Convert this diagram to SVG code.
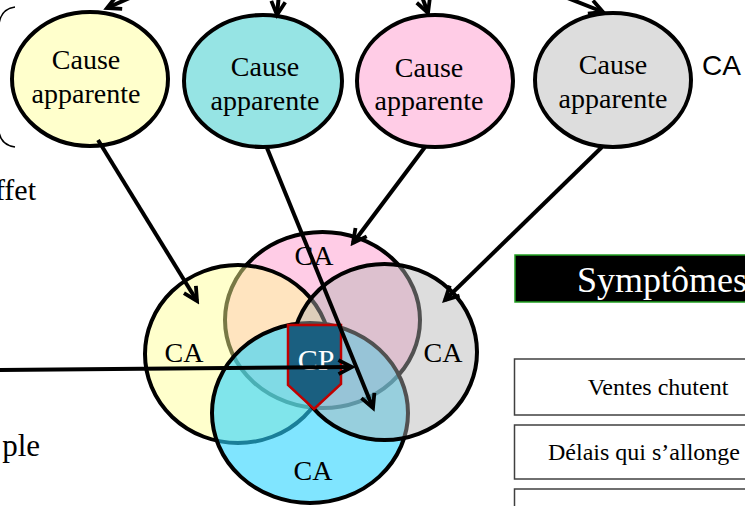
<svg xmlns="http://www.w3.org/2000/svg" width="745" height="506" viewBox="0 0 745 506">
  <defs>
    <marker id="head" markerUnits="userSpaceOnUse" viewBox="-18 -10 22 20" refX="0" refY="0" markerWidth="22" markerHeight="20" orient="auto">
      <path d="M -13.5 -7 L 0 0 L -13.5 7" fill="none" stroke="#000" stroke-width="3.8" stroke-linejoin="miter"/>
    </marker>
    <style>
      .serif { font-family: "Liberation Serif", "Times New Roman", serif; fill: #000; }
      .cause { font-size: 28px; text-anchor: middle; }
      .ca { font-size: 28px; text-anchor: middle; }
      .outline { stroke: #000; stroke-width: 4; }
      .arrow { fill: none; stroke: #000; stroke-width: 4; marker-end: url(#head); }
      .sym { fill: #fff; stroke: #404040; stroke-width: 1.5; }
    </style>
  </defs>

  <!-- side labels -->
  <path d="M 15 7 Q 1 9 -1 24 L -1 132 Q 1 145 15 147" fill="none" stroke="#000" stroke-width="1.5"/>
  <text class="serif" x="36" y="200" font-size="30" text-anchor="end">ffet</text>
  <text class="serif" x="40" y="456" font-size="31" text-anchor="end">ple</text>
  <text x="702" y="75" font-family="Liberation Sans, Arial, sans-serif" font-size="28" fill="#000">CA</text>

  <!-- apparent causes -->
  <g id="cause-yellow">
    <ellipse cx="90" cy="79" rx="78" ry="67" fill="#FFFFCC" class="outline"/>
    <text class="serif cause" x="86" y="69">Cause</text>
    <text class="serif cause" x="86" y="103">apparente</text>
  </g>
  <g id="cause-cyan">
    <ellipse cx="263" cy="81" rx="79" ry="66" fill="#96E4E4" class="outline"/>
    <text class="serif cause" x="265" y="76">Cause</text>
    <text class="serif cause" x="265" y="110">apparente</text>
  </g>
  <g id="cause-pink">
    <ellipse cx="435" cy="81" rx="78" ry="66" fill="#FFCCE6" class="outline"/>
    <text class="serif cause" x="429" y="77">Cause</text>
    <text class="serif cause" x="429" y="110">apparente</text>
  </g>
  <g id="cause-gray">
    <ellipse cx="613" cy="80" rx="78" ry="67" fill="#DDDDDD" class="outline"/>
    <text class="serif cause" x="613" y="74">Cause</text>
    <text class="serif cause" x="613" y="108">apparente</text>
  </g>

  <!-- overlapping causes -->
  <g id="venn">
    <g id="ca-pink">
      <ellipse cx="322.5" cy="320" rx="97.5" ry="88" fill="#FFCCE6" class="outline"/>
    </g>
    <g id="ca-yellow">
      <ellipse cx="238" cy="354" rx="93" ry="89" fill="rgb(255,255,147)" fill-opacity="0.47" class="outline"/>
    </g>
    <g id="ca-cyan">
      <ellipse cx="310" cy="413" rx="98" ry="90" fill="rgb(43,212,255)" fill-opacity="0.6" class="outline"/>
    </g>
    <g id="ca-gray">
      <ellipse cx="384.5" cy="352" rx="92.5" ry="88" fill="rgb(180,180,180)" fill-opacity="0.45" class="outline"/>
    </g>
    <g id="cp">
      <polygon points="288,325 341,325 341,384 314,409 288,385" fill="#1A5F80" stroke="#C00000" stroke-width="2.5"/>
      <text class="serif" x="316" y="370" font-size="30" text-anchor="middle" style="fill:#fff">CP</text>
    </g>
    <text class="serif ca" x="314" y="265">CA</text>
    <text class="serif ca" x="184" y="362">CA</text>
    <text class="serif ca" x="443" y="362">CA</text>
    <text class="serif ca" x="313" y="480">CA</text>
  </g>

  <!-- symptoms -->
  <g id="symptomes">
    <rect x="515" y="255" width="250" height="47" fill="#000" stroke="#22A022" stroke-width="1.5"/>
    <text class="serif" x="577" y="292" font-size="36" style="fill:#fff">Symptômes</text>
  </g>
  <g id="ventes">
    <rect class="sym" x="514.5" y="359" width="260" height="56"/>
    <text class="serif" x="658" y="395" font-size="24" text-anchor="middle">Ventes chutent</text>
  </g>
  <g id="delais">
    <rect class="sym" x="514.5" y="425" width="260" height="54"/>
    <text class="serif" x="548" y="460" font-size="24">Délais qui s’allonge</text>
  </g>
  <g id="symptome-3">
    <rect class="sym" x="514.5" y="489" width="260" height="40"/>
  </g>

  <!-- connectors -->
  <g id="connectors">
    <line class="arrow" x1="143" y1="-8" x2="107" y2="8"/>
    <line class="arrow" x1="279" y1="-6" x2="277" y2="15"/>
    <line class="arrow" x1="421" y1="-6" x2="428" y2="13"/>
    <line class="arrow" x1="560" y1="-5" x2="603" y2="12"/>
    <line class="arrow" x1="98" y1="140" x2="197" y2="301"/>
    <line class="arrow" x1="267" y1="148" x2="373" y2="408"/>
    <line class="arrow" x1="425" y1="147" x2="353" y2="243"/>
    <line class="arrow" x1="602" y1="147" x2="445" y2="300"/>
    <line class="arrow" x1="-5" y1="370" x2="352" y2="367"/>
  </g>
</svg>
